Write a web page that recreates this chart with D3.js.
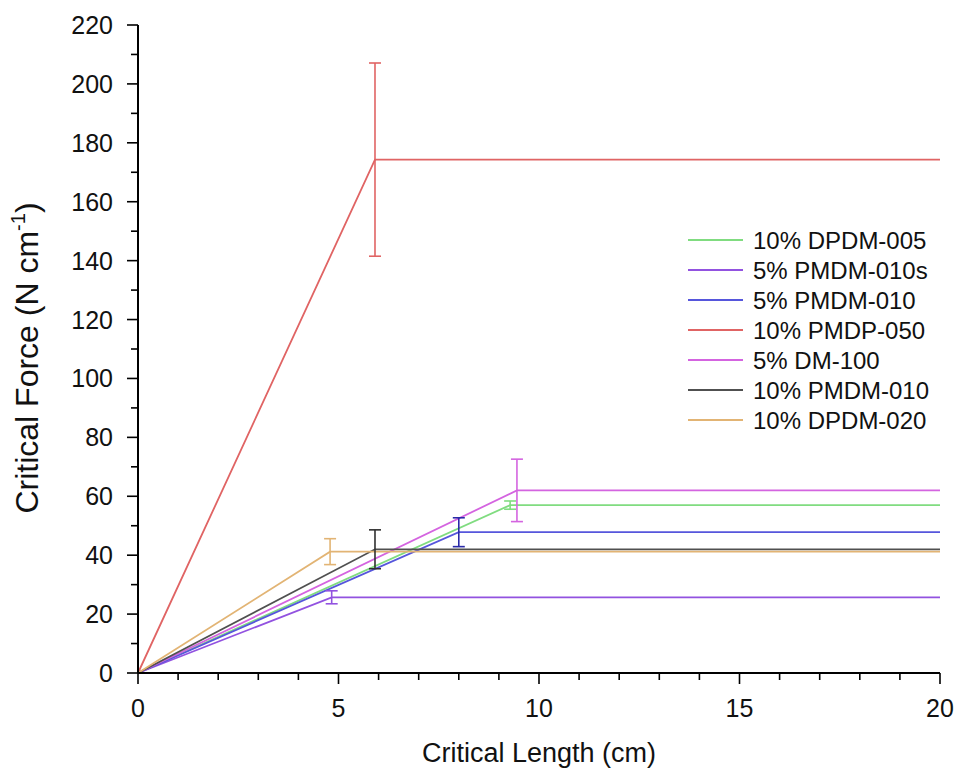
<!DOCTYPE html>
<html><head><meta charset="utf-8">
<script src="https://cdn.jsdelivr.net/npm/d3@7"></script>
<style>body{margin:0;background:#fff;} text{font-family:"Liberation Sans",Arial,sans-serif;}</style>
</head><body>
<svg id="c" width="959" height="768"></svg>
<script>
const seriesNames = ["10% DPDM-005","5% PMDM-010s","5% PMDM-010","10% PMDP-050","5% DM-100","10% PMDM-010","10% DPDM-020"];
const seriesColors = ["#80dc80","#9252e0","#5656dc","#e06464","#d464e0","#505050","#e2b474"];
const errColors = ["#80dc80","#9252e0","#2a2aa8","#e06464","#d464e0","#303030","#e2b474"];
const peakX = [9.28, 4.83, 8.0, 5.91, 9.45, 5.91, 4.79];
const peakY = [57.0, 25.7, 47.8, 174.3, 62.0, 42.0, 41.2];
const peakErr = [1.4, 2.2, 4.9, 32.8, 10.6, 6.6, 4.4];
const xStart = 0, xEnd = 20;
const xTicks = [0,5,10,15,20];
const yTicks = [0,20,40,60,80,100,120,140,160,180,200,220];

const svg = d3.select("#c");
const x = d3.scaleLinear().domain([0,20]).range([138,940]);
const y = d3.scaleLinear().domain([0,220]).range([673,25]);

// ticks
const g = svg.append("g");
const xMinor = d3.range(0,21,1);
const yMinor = d3.range(0,221,10);
g.selectAll(".xm").data(xMinor).enter().append("line")
  .attr("x1",d=>x(d)).attr("x2",d=>x(d)).attr("y1",y(0)).attr("y2",d=>y(0)+(d%5===0?11:7))
  .attr("stroke","#000").attr("stroke-width",1.6);
g.selectAll(".ym").data(yMinor).enter().append("line")
  .attr("y1",d=>y(d)).attr("y2",d=>y(d)).attr("x1",x(0)).attr("x2",d=>x(0)-(d%20===0?11:7))
  .attr("stroke","#000").attr("stroke-width",1.6);

// data lines
peakX.forEach((px,i)=>{
  const pts = [[xStart,0],[px,peakY[i]],[xEnd,peakY[i]]];
  svg.append("path").attr("d", d3.line().x(d=>x(d[0])).y(d=>y(d[1]))(pts))
    .attr("fill","none").attr("stroke",seriesColors[i]).attr("stroke-width",1.8);
});
// error bars
peakX.forEach((px,i)=>{
  const eg = svg.append("g").attr("stroke",errColors[i]).attr("stroke-width",1.6);
  const cx = x(px), t = y(peakY[i]+peakErr[i]), b = y(peakY[i]-peakErr[i]);
  eg.append("line").attr("x1",cx).attr("x2",cx).attr("y1",t).attr("y2",b);
  eg.append("line").attr("x1",cx-6).attr("x2",cx+6).attr("y1",t).attr("y2",t);
  eg.append("line").attr("x1",cx-6).attr("x2",cx+6).attr("y1",b).attr("y2",b);
});

// axes lines
svg.append("line").attr("x1",x(0)).attr("x2",x(20)).attr("y1",y(0)).attr("y2",y(0)).attr("stroke","#000").attr("stroke-width",2);
svg.append("line").attr("x1",x(0)).attr("x2",x(0)).attr("y1",y(0)).attr("y2",y(220)).attr("stroke","#000").attr("stroke-width",2);

// tick labels
svg.selectAll(".xl").data(xTicks).enter().append("text")
  .attr("x",d=>x(d)).attr("y",717).attr("text-anchor","middle")
  .attr("font-size",25).attr("fill","#111").text(d=>d);
svg.selectAll(".yl").data(yTicks).enter().append("text")
  .attr("x",x(0)-25).attr("y",d=>y(d)+9).attr("text-anchor","end")
  .attr("font-size",25).attr("fill","#111").text(d=>d);

// axis titles
svg.append("text").attr("x",539).attr("y",762).attr("text-anchor","middle")
  .attr("font-size",27).attr("fill","#111").text("Critical Length (cm)");
const yt = svg.append("text").attr("transform","translate(38,358) rotate(-90)")
  .attr("text-anchor","middle").attr("font-size",32).attr("fill","#111");
yt.append("tspan").text("Critical Force (N cm");
yt.append("tspan").attr("font-size",20).attr("dy",-13).text("-1");
yt.append("tspan").attr("dy",13).text(")");

// legend
seriesNames.forEach((n,i)=>{
  const ly = 240 + i*30;
  svg.append("line").attr("x1",688).attr("x2",743).attr("y1",ly).attr("y2",ly)
    .attr("stroke",seriesColors[i]).attr("stroke-width",1.8);
  svg.append("text").attr("x",753).attr("y",ly+9).attr("font-size",24).attr("fill","#111").text(n);
});
</script>
</body></html>
